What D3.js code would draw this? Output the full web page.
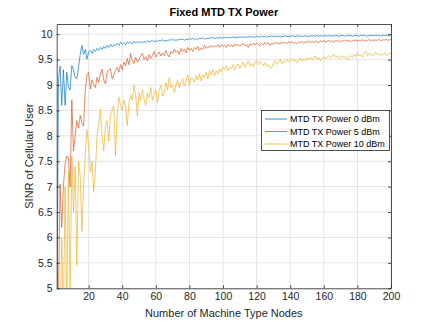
<!DOCTYPE html>
<html><head><meta charset="utf-8">
<script src="https://cdn.jsdelivr.net/npm/d3@7/dist/d3.min.js"></script>
<style>body{margin:0;background:#fff}svg{display:block}</style>
</head><body>
<svg id="c" width="432" height="324"></svg>
<script>
const xTicks = [20,40,60,80,100,120,140,160,180,200];
const yTicks = [5,5.5,6,6.5,7,7.5,8,8.5,9,9.5,10];
const seriesNames = ["MTD TX Power 0 dBm","MTD TX Power 5 dBm","MTD TX Power 10 dBm"];
const power0 = [
3.0,9.1,9.37,8.6,9.3,8.6,9.25,8.95,8.9,9.38,9.3,9.15,9.12,9.35,9.6,9.78,9.6,9.7,9.51,9.65,
9.68,9.62,9.7,9.66,9.72,9.68,9.74,9.7,9.76,9.72,9.78,9.74,9.8,9.75,9.79,9.77,9.82,9.78,9.84,9.8,
9.83,9.79,9.85,9.82,9.84,9.81,9.86,9.83,9.85,9.84,
9.85,9.83,9.86,9.84,9.87,9.85,9.86,9.88,9.85,9.87,9.86,9.88,9.87,9.89,9.86,9.88,9.87,9.89,9.88,9.9,
9.87,9.89,9.88,9.9,9.89,9.91,9.88,9.9,9.89,9.91,9.9,9.92,9.89,9.91,9.9,9.92,9.91,9.93,9.9,9.92,
9.91,9.93,9.92,9.94,9.91,9.93,9.92,9.94,9.92,9.93,
9.93,9.94,9.92,9.94,9.93,9.95,9.93,9.94,9.93,9.95,
9.94,9.95,9.93,9.95,9.94,9.96,9.94,9.95,9.94,9.96,
9.95,9.94,9.96,9.95,9.96,9.94,9.96,9.95,9.97,9.95,
9.96,9.95,9.96,9.94,9.96,9.95,9.97,9.95,9.96,9.95,
9.97,9.96,9.95,9.97,9.96,9.97,9.95,9.96,9.97,9.96,
9.95,9.97,9.96,9.97,9.96,9.98,9.96,9.97,9.96,9.97,
9.97,9.96,9.98,9.96,9.97,9.96,9.98,9.97,9.96,9.97,
9.98,9.97,9.96,9.98,9.97,9.98,9.96,9.97,9.98,9.97,
9.96,9.98,9.97,9.98,9.97,9.96,9.98,9.97,9.98,9.97,
9.98,9.97,9.98,9.96,9.98,9.97,9.98,9.97,9.98,9.98];
const power5 = [
3.5,4.6,7.05,6.2,7.0,7.45,7.6,7.55,7.0,8.7,7.7,8.0,8.3,8.15,8.4,8.25,8.19,8.9,9.2,9.25,
8.92,9.1,9.0,8.95,9.15,9.05,9.2,9.31,9.1,9.02,9.25,9.3,9.32,9.12,9.2,9.28,9.35,9.25,9.4,9.3,
9.45,9.38,9.52,9.4,9.62,9.48,9.42,9.55,9.45,9.5,
9.58,9.62,9.5,9.56,9.48,9.6,9.52,9.58,9.66,9.55,9.6,9.65,9.57,9.63,9.58,9.68,9.6,9.55,9.66,9.62,
9.7,9.64,9.68,9.6,9.72,9.66,9.7,9.63,9.74,9.68,9.72,9.66,9.74,9.7,9.76,9.68,9.73,9.7,9.78,9.72,
9.76,9.73,9.78,9.74,9.77,9.75,9.79,9.74,9.8,9.76,
9.78,9.74,9.8,9.76,9.79,9.75,9.81,9.77,9.8,9.76,
9.79,9.82,9.77,9.8,9.74,9.81,9.78,9.82,9.79,9.83,
9.8,9.77,9.82,9.79,9.84,9.8,9.83,9.78,9.82,9.8,
9.84,9.81,9.83,9.8,9.85,9.82,9.84,9.81,9.85,9.83,
9.86,9.82,9.84,9.81,9.85,9.83,9.86,9.82,9.85,9.84,
9.87,9.83,9.86,9.84,9.87,9.85,9.83,9.87,9.85,9.88,
9.84,9.86,9.88,9.85,9.87,9.84,9.88,9.86,9.87,9.85,
9.88,9.86,9.89,9.86,9.88,9.85,9.88,9.87,9.89,9.86,
9.88,9.87,9.89,9.86,9.88,9.87,9.9,9.86,9.89,9.87,
9.89,9.87,9.9,9.87,9.89,9.88,9.9,9.88,9.89,9.89];
const power10 = [
2.5,3.5,4.2,6.0,4.5,7.0,4.6,7.3,4.8,7.6,6.5,7.4,5.45,7.5,7.2,6.12,7.0,7.6,8.13,7.8,
7.3,7.5,6.9,7.28,8.0,8.2,8.52,8.0,7.7,8.2,8.3,7.9,8.4,8.5,8.59,7.6,8.4,8.76,8.6,8.5,
8.7,8.6,8.2,8.65,8.8,8.7,9.0,8.8,8.4,8.85,
8.7,8.9,8.73,8.6,8.85,8.75,8.95,8.7,8.82,8.9,8.65,8.9,9.0,8.78,8.85,9.05,8.9,9.15,8.95,9.0,
8.85,9.0,9.1,8.95,9.05,9.12,8.98,9.08,9.2,9.0,9.15,9.12,9.05,9.18,9.1,9.22,9.08,9.2,9.15,9.25,
9.12,9.29,9.2,9.3,9.18,9.28,9.22,9.32,9.25,9.35,
9.3,9.38,9.28,9.35,9.32,9.4,9.3,9.37,9.42,9.33,
9.38,9.45,9.35,9.4,9.47,9.38,9.42,9.36,9.44,9.48,
9.4,9.46,9.42,9.38,9.44,9.36,9.4,9.33,9.35,9.42,
9.48,9.4,9.45,9.5,9.42,9.47,9.44,9.5,9.45,9.48,
9.52,9.46,9.5,9.44,9.49,9.53,9.47,9.51,9.48,9.54,
9.5,9.55,9.49,9.52,9.57,9.5,9.54,9.48,9.53,9.56,
9.51,9.55,9.58,9.52,9.56,9.6,9.54,9.57,9.52,9.55,
9.58,9.53,9.56,9.5,9.55,9.58,9.54,9.6,9.56,9.62,
9.57,9.6,9.55,9.63,9.66,9.58,9.62,9.6,9.57,9.61,
9.64,9.59,9.62,9.58,9.6,9.63,9.61,9.58,9.62,9.63];
const nodes = d3.range(1, 201);

const colors = ["#0072BD","#D95319","#EDB120"];
const L = 56.7, R = 391, T = 24, B = 288.3;
const font = "'Liberation Sans', Arial, Helvetica, sans-serif";
const ink = "#262626";
const svg = d3.select("#c");
const x = d3.scaleLinear().domain([1,200]).range([L,R]);
const y = d3.scaleLinear().domain([5,10.2]).range([B,T]);

// grid
const g = svg.append("g");
g.selectAll(".gx").data(xTicks).join("line")
  .attr("x1",d=>x(d)).attr("x2",d=>x(d)).attr("y1",T).attr("y2",B)
  .attr("stroke","#e4e4e4").attr("stroke-width",1);
g.selectAll(".gy").data(yTicks).join("line")
  .attr("y1",d=>y(d)).attr("y2",d=>y(d)).attr("x1",L).attr("x2",R)
  .attr("stroke","#e4e4e4").attr("stroke-width",1);

// lines
svg.append("defs").append("clipPath").attr("id","clip")
  .append("rect").attr("x",L).attr("y",T).attr("width",R-L).attr("height",B-T);
const line = d3.line().x((d,i)=>x(nodes[i])).y(d=>y(d));
const plot = svg.append("g").attr("clip-path","url(#clip)");
[power0,power5,power10].forEach((s,k)=>{
  plot.append("path").datum(s).attr("d",line).attr("fill","none")
    .attr("stroke",colors[k]).attr("stroke-width",0.8).attr("stroke-opacity",0.85)
    .attr("stroke-linejoin","round");
});

// axes
function style(sel){
  sel.selectAll("path").attr("stroke",ink).attr("stroke-width",0.8);
  sel.selectAll("line").attr("stroke",ink).attr("stroke-width",0.8);
  sel.selectAll("text").attr("fill",ink).attr("font-family",font).attr("font-size",10.5);
}
svg.append("g").attr("transform",`translate(0,${B})`)
  .call(d3.axisBottom(x).tickValues(xTicks).tickSize(-3).tickPadding(4).tickSizeOuter(0)).call(style);
svg.append("g").attr("transform",`translate(0,${T})`)
  .call(d3.axisTop(x).tickValues(xTicks).tickSize(-3).tickFormat("").tickSizeOuter(0)).call(style);
svg.append("g").attr("transform",`translate(${L},0)`)
  .call(d3.axisLeft(y).tickValues(yTicks).tickSize(-3).tickPadding(4).tickSizeOuter(0)
  .tickFormat(d=>d3.format("")(d))).call(style);
svg.append("g").attr("transform",`translate(${R},0)`)
  .call(d3.axisRight(y).tickValues(yTicks).tickSize(-3).tickFormat("").tickSizeOuter(0)).call(style);

// title & labels
svg.append("text").attr("x",(L+R)/2).attr("y",16).attr("text-anchor","middle")
  .attr("font-family",font).attr("font-size",11).attr("font-weight","bold").attr("fill","#000")
  .text("Fixed MTD TX Power");
svg.append("text").attr("x",(L+R)/2).attr("y",317).attr("text-anchor","middle")
  .attr("font-family",font).attr("font-size",11).attr("fill",ink)
  .text("Number of Machine Type Nodes");
svg.append("text").attr("transform",`translate(33,${(T+B)/2}) rotate(-90)`).attr("text-anchor","middle")
  .attr("font-family",font).attr("font-size",11).attr("fill",ink)
  .text("SINR of Cellular User");

// legend
const lg = svg.append("g");
lg.append("rect").attr("x",261.5).attr("y",110.5).attr("width",128).attr("height",40)
  .attr("fill","#fff").attr("stroke",ink).attr("stroke-width",0.8);
seriesNames.forEach((n,k)=>{
  const yy = 119 + k*12.5;
  lg.append("line").attr("x1",265).attr("x2",287).attr("y1",yy).attr("y2",yy)
    .attr("stroke",colors[k]).attr("stroke-width",0.8);
  lg.append("text").attr("x",290).attr("y",yy+3.2).attr("font-family",font)
    .attr("font-size",9).attr("fill","#000").text(n);
});
</script>
</body></html>
